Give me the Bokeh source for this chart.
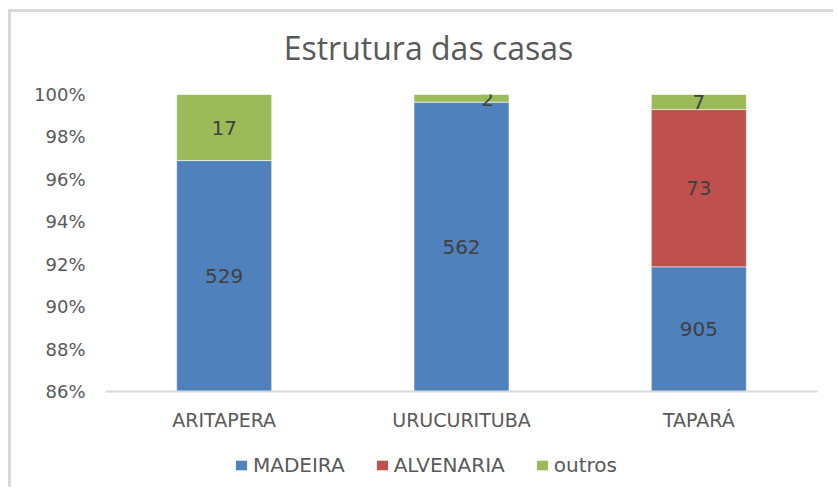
from bokeh.plotting import figure
from bokeh.layouts import column
from bokeh.models import (FactorRange, Range1d, NumeralTickFormatter, FixedTicker, Legend, LegendItem,
                          ColumnDataSource)
from bokeh.core.properties import value
from bokeh.embed import file_html
from bokeh.resources import INLINE

title_text = "Estrutura das casas"
categories = ["ARITAPERA", "URUCURITUBA", "TAPARÁ"]
madeira = [529, 562, 905]
alvenaria = [0, 0, 73]
outros = [17, 2, 7]
series_names = ["MADEIRA", "ALVENARIA", "outros"]
colors = ["#4F81BD", "#C0504D", "#9BBB59"]
y_ticks = [0.86, 0.88, 0.90, 0.92, 0.94, 0.96, 0.98, 1.00]
y_min, y_max = 0.86, 1.00

totals = [a + b + c for a, b, c in zip(madeira, alvenaria, outros)]
series = [madeira, alvenaria, outros]

W = 822

# header strip carrying the chart title
hd = figure(width=W, height=70, output_backend="svg", toolbar_location=None,
            x_range=Range1d(0, 1), y_range=Range1d(0, 1), x_axis_type=None, y_axis_type=None,
            min_border_left=0, min_border_right=0, min_border_top=0, min_border_bottom=0)
hd.outline_line_color = None
hd.xgrid.visible = False
hd.ygrid.visible = False
hd.text(x=[0.5], y=[0.5], text=[title_text], x_offset=-33, text_align="center", text_baseline="middle",
        text_font=value("Open Sans"), text_font_size="32px", text_color="#595959")

p = figure(x_range=FactorRange(*categories, range_padding=0), y_range=Range1d(y_min, y_max),
           width=W, height=363, output_backend="svg", toolbar_location=None,
           min_border_left=94, min_border_right=16, min_border_top=12, min_border_bottom=54)

# legend strip below the chart (its bars are kept outside its visible y range)
lg = figure(width=W, height=42, output_backend="svg", toolbar_location=None,
            x_range=FactorRange(*categories), y_range=Range1d(2, 3), x_axis_type=None, y_axis_type=None,
            min_border_left=0, min_border_right=0, min_border_top=0, min_border_bottom=0)
lg.outline_line_color = None
lg.xgrid.visible = False
lg.ygrid.visible = False

items = []
bottoms = [0.0] * len(categories)
in_x, in_y, in_t = [], [], []
thin_x, thin_y, thin_t = [], [], []
for s, name, col in zip(series, series_names, colors):
    fr = [v / t for v, t in zip(s, totals)]
    tops = [b + f for b, f in zip(bottoms, fr)]
    src = ColumnDataSource(dict(x=categories, bottom=bottoms, top=tops))
    p.vbar(x="x", bottom="bottom", top="top", width=0.4, source=src,
           fill_color=col, line_color="white", line_alpha=0.6, line_width=0.8)
    lr = lg.vbar(x="x", bottom="bottom", top="top", width=0.4, source=src, fill_color=col, line_color=None)
    items.append(LegendItem(label=name, renderers=[lr]))
    for c, b, t, v in zip(categories, bottoms, tops, s):
        if v == 0:
            continue
        vb = max(b, y_min)
        vt = min(t, y_max)
        if vt - vb < 0.005:
            thin_x.append(c); thin_y.append(vt); thin_t.append(str(v))
        else:
            in_x.append(c); in_y.append((vb + vt) / 2); in_t.append(str(v))
    bottoms = tops

p.text(x=in_x, y=in_y, text=in_t, text_align="center", text_baseline="middle",
       text_font=value("DejaVu Sans"), text_font_size="20px", text_color="#404040")
p.text(x=thin_x, y=thin_y, text=thin_t, x_offset=26, y_offset=4, text_align="center", text_baseline="middle",
       text_font=value("DejaVu Sans"), text_font_size="20px", text_color="#404040")

p.xgrid.visible = False
p.ygrid.visible = False
p.outline_line_color = None

p.yaxis.ticker = FixedTicker(ticks=y_ticks)
p.yaxis.formatter = NumeralTickFormatter(format="0%")
p.yaxis.axis_line_color = None
p.yaxis.major_tick_line_color = None
p.yaxis.minor_tick_line_color = None
p.yaxis.major_label_text_font = "DejaVu Sans"
p.yaxis.major_label_text_font_size = "18px"
p.yaxis.major_label_text_color = "#595959"
p.yaxis.major_label_standoff = 14

p.xaxis.axis_line_color = "#d9d9d9"
p.xaxis.axis_line_width = 2
p.xaxis.major_tick_line_color = None
p.xaxis.minor_tick_line_color = None
p.xaxis.major_label_text_font = "DejaVu Sans"
p.xaxis.major_label_text_font_size = "19px"
p.xaxis.major_label_text_color = "#595959"
p.xaxis.major_label_standoff = 11

legend = Legend(items=items, orientation="horizontal", location=(129, 10),
                label_text_font="DejaVu Sans", label_text_font_size="20px", label_text_color="#595959",
                glyph_width=14, glyph_height=12, label_standoff=5, spacing=30,
                border_line_color=None, background_fill_alpha=0, margin=0, padding=4)
lg.add_layout(legend)

layout = column(hd, p, lg, spacing=0, margin=(9, 0, 0, 8),
                styles={"border-left": "3px solid #d9d9d9", "border-top": "3px solid #d9d9d9"})

open("out.html", "w").write(file_html(layout, INLINE))
